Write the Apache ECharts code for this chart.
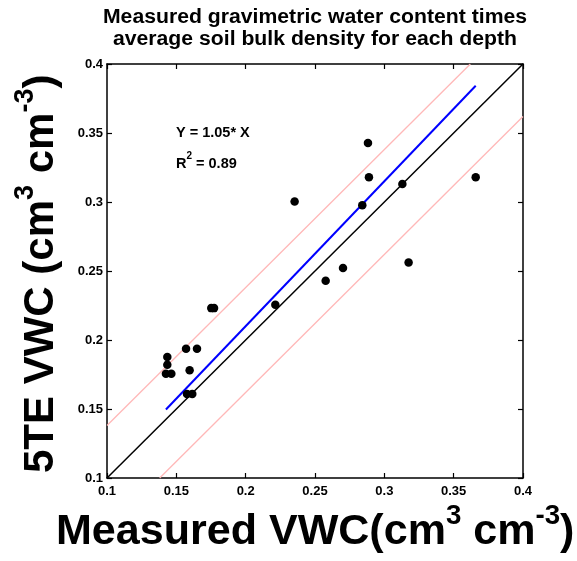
<!DOCTYPE html>
<html><head><meta charset="utf-8">
<script src="https://cdn.jsdelivr.net/npm/echarts@6/dist/echarts.min.js"></script>
<style>html,body{margin:0;padding:0;background:#fff}#c{width:577px;height:561px}</style>
</head><body><div id="c"></div>
<script>
// Data
const measuredVWC = [0.1435,0.1435,0.1425,0.1464,0.157,0.1649,0.1596,0.1577,0.1615,0.1752,0.1772,0.2214,0.2353,0.2577,0.2702,0.2841,0.2882,0.2889,0.313,0.3175,0.3659];
const sensorVWC   = [0.1876,0.182,0.1755,0.1755,0.1937,0.1937,0.178,0.1608,0.1608,0.2231,0.2231,0.2255,0.3003,0.2429,0.2521,0.2977,0.3428,0.318,0.3131,0.2562,0.318];
const slope = 1.05;
const bandOffset = 0.038;
const axisMin = 0.1, axisMax = 0.4, axisStep = 0.05;
const titleLines = ['Measured gravimetric water content times','average soil bulk density for each depth'];

const pts = measuredVWC.map((x,i)=>[x, sensorVWC[i]]);
const xMinD = Math.min(...measuredVWC), xMaxD = Math.max(...measuredVWC);
const fitLine = [[xMinD, slope*xMinD],[xMaxD, slope*xMaxD]];
const oneLine = [[axisMin, axisMin],[axisMax, axisMax]];
const upperLine = [[axisMin, axisMin+bandOffset],[axisMax-bandOffset, axisMax]];
const lowerLine = [[axisMin+bandOffset, axisMin],[axisMax, axisMax-bandOffset]];

const FONT = 'Liberation Sans, Arial, sans-serif';
const chart = echarts.init(document.getElementById('c'), null, {renderer:'canvas'});
const axBase = {
  type:'value', min:axisMin, max:axisMax, interval:axisStep,
  splitLine:{show:false},
  axisLine:{show:true, onZero:false, lineStyle:{color:'#000', width:1.5}},
  axisTick:{show:true, inside:true, length:5, lineStyle:{color:'#000', width:1.2}},
};
const labelStyle = {color:'#000', fontFamily:FONT, fontWeight:'bold', fontSize:13};
function supText(font, supFont, pad, lh){
  return {
    b:{font:'bold '+font+'px '+FONT, fill:'#000', verticalAlign:'bottom', lineHeight:lh},
    s:{font:'bold '+supFont+'px '+FONT, fill:'#000', verticalAlign:'top', padding:[pad,0,0,0]}
  };
}
chart.setOption({
  animation:false,
  backgroundColor:'#fff',
  grid:{left:107, right:54, top:64, bottom:83},
  xAxis:[
    Object.assign({}, axBase, {position:'bottom', axisLabel:Object.assign({margin:7}, labelStyle)}),
    Object.assign({}, axBase, {position:'top', axisLabel:{show:false}})
  ],
  yAxis:[
    Object.assign({}, axBase, {position:'left', axisLabel:Object.assign({margin:4}, labelStyle)}),
    Object.assign({}, axBase, {position:'right', axisLabel:{show:false}})
  ],
  series:[
    {type:'line', data:upperLine, symbol:'none', lineStyle:{color:'#ffb8b8', width:1.3}, z:1},
    {type:'line', data:lowerLine, symbol:'none', lineStyle:{color:'#ffb8b8', width:1.3}, z:1},
    {type:'line', data:oneLine, symbol:'none', lineStyle:{color:'#000', width:1.5}, z:2},
    {type:'line', data:fitLine, symbol:'none', lineStyle:{color:'#0000ff', width:2}, z:3},
    {type:'scatter', data:pts, symbol:'circle', symbolSize:8.5, itemStyle:{color:'#000', opacity:1}, z:4}
  ],
  graphic:[
    {type:'text', x:315, y:17, scaleX:1.06, style:{text:titleLines[0], font:'bold 20px '+FONT, fill:'#000', align:'center', verticalAlign:'middle'}},
    {type:'text', x:315, y:39, scaleX:1.06, style:{text:titleLines[1], font:'bold 20px '+FONT, fill:'#000', align:'center', verticalAlign:'middle'}},
    {type:'text', x:176, y:133, style:{text:'Y = 1.05* X', font:'bold 14.5px '+FONT, fill:'#000', verticalAlign:'middle'}},
    {type:'text', x:176, y:151, style:{
      text:'{b|R}{s|2}{b| = 0.89}',
      rich:supText(14.5, 10, 0, 20)
    }},
    {type:'text', x:6, y:473, rotation:Math.PI/2, style:{
      text:'{b|5TE VWC (cm}{s|3}{b| cm}{s|-3}{b|)}',
      rich:supText(42, 27, 6, 56)
    }},
    {type:'text', x:56, y:497, scaleX:1.025, style:{
      text:'{b|Measured VWC(cm}{s|3}{b| cm}{s|-3}{b|)}',
      rich:supText(42, 27, 6, 56)
    }}
  ]
});
</script></body></html>
